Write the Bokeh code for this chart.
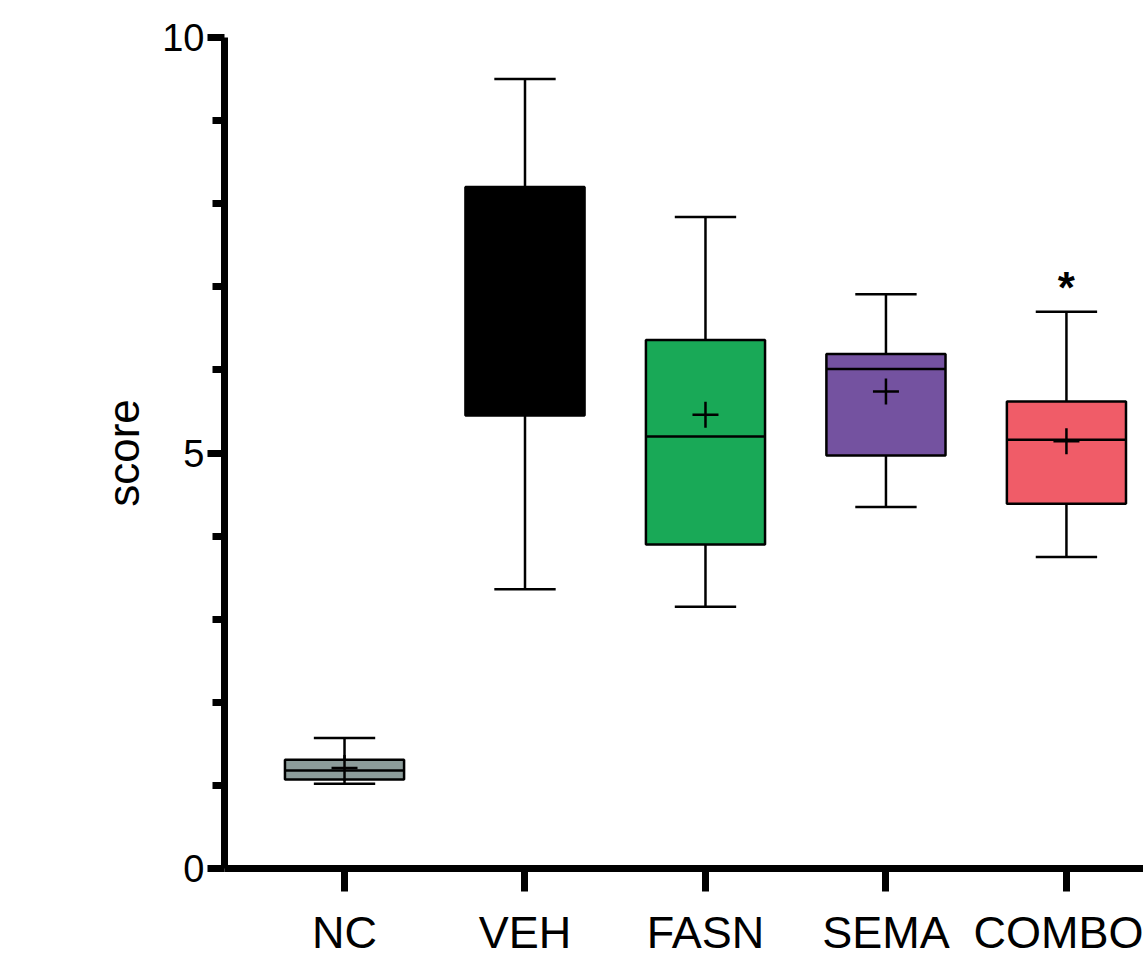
from bokeh.plotting import figure
from bokeh.models import Range1d, FixedTicker, ColumnDataSource
from bokeh.core.properties import value
from bokeh.embed import file_html
from bokeh.resources import INLINE

groups = ["NC", "VEH", "FASN", "SEMA", "COMBO"]
whisker_lo = [1.02, 3.36, 3.15, 4.35, 3.75]
q1 = [1.07, 5.45, 3.90, 4.97, 4.39]
median = [1.18, 6.60, 5.20, 6.01, 5.16]
q3 = [1.31, 8.20, 6.36, 6.19, 5.62]
whisker_hi = [1.57, 9.50, 7.84, 6.91, 6.70]
means = [1.21, 6.80, 5.46, 5.74, 5.14]
colors = ["#8c9c9a", "#000000", "#19a957", "#7452a0", "#f05c68"]
signif = ["", "", "", "", "*"]

xs = list(range(1, len(groups) + 1))
box_w = 0.66
cap_w = 0.34

src = ColumnDataSource(dict(
    x=xs, lo=whisker_lo, q1=q1, med=median, q3=q3, hi=whisker_hi, mean=means,
    color=colors, sig=signif,
    cl=[x - cap_w / 2 for x in xs], cr=[x + cap_w / 2 for x in xs],
    bl=[x - box_w / 2 for x in xs], br=[x + box_w / 2 for x in xs],
))

p = figure(width=1143, height=960, output_backend="svg", toolbar_location=None,
           x_range=Range1d(0.335, 5.427), y_range=Range1d(0, 10),
           min_border_left=224, min_border_top=37, min_border_right=0,
           min_border_bottom=90)
p.outline_line_color = None
p.xgrid.visible = False
p.ygrid.visible = False
p.background_fill_color = "white"
p.border_fill_color = "white"

# whiskers
p.segment(x0="x", y0="q3", x1="x", y1="hi", source=src, line_color="black", line_width=2.5)
p.segment(x0="x", y0="lo", x1="x", y1="q1", source=src, line_color="black", line_width=2.5)
p.segment(x0="cl", y0="hi", x1="cr", y1="hi", source=src, line_color="black", line_width=2.5)
p.segment(x0="cl", y0="lo", x1="cr", y1="lo", source=src, line_color="black", line_width=2.5)
# boxes
p.vbar(x="x", width=box_w, bottom="q1", top="q3", source=src, fill_color="color",
       line_color="black", line_width=2.5)
# median
p.segment(x0="bl", y0="med", x1="br", y1="med", source=src, line_color="black", line_width=2.5)
# mean
p.scatter(x="x", y="mean", source=src, marker="cross", size=26, line_color="black",
          line_width=2.5)
# significance
p.text(x="x", y="hi", text="sig", source=src, text_align="center",
       text_baseline="alphabetic", y_offset=-24, text_font=value("Liberation Sans"),
       text_font_size="44px", text_font_style="bold", text_color="black")

# axes
xa = p.xaxis[0]
xa.ticker = FixedTicker(ticks=xs)
xa.major_label_overrides = {x: g for x, g in zip(xs, groups)}
xa.axis_line_width = 7
xa.major_tick_line_width = 7
xa.major_tick_out = 23
xa.major_tick_in = 0
xa.minor_tick_line_color = None
xa.major_label_standoff = 15
xa.major_label_text_font = "Liberation Sans"
xa.major_label_text_font_size = "45px"
xa.major_label_text_color = "black"

ya = p.yaxis[0]
ya.ticker = FixedTicker(ticks=[0, 5, 10], minor_ticks=[1, 2, 3, 4, 6, 7, 8, 9])
ya.axis_line_width = 7
ya.major_tick_line_width = 7
ya.minor_tick_line_width = 7
ya.major_tick_out = 17
ya.major_tick_in = 0
ya.minor_tick_out = 12
ya.minor_tick_in = 0
ya.major_label_standoff = 3
ya.major_label_text_font = "Liberation Sans"
ya.major_label_text_font_size = "38px"
ya.major_label_text_color = "black"
ya.axis_label = "score"
ya.axis_label_text_font = "Liberation Sans"
ya.axis_label_text_font_size = "44px"
ya.axis_label_text_font_style = "normal"
ya.axis_label_text_color = "black"
ya.axis_label_standoff = 11

open("out.html", "w").write(file_html(p, INLINE))
